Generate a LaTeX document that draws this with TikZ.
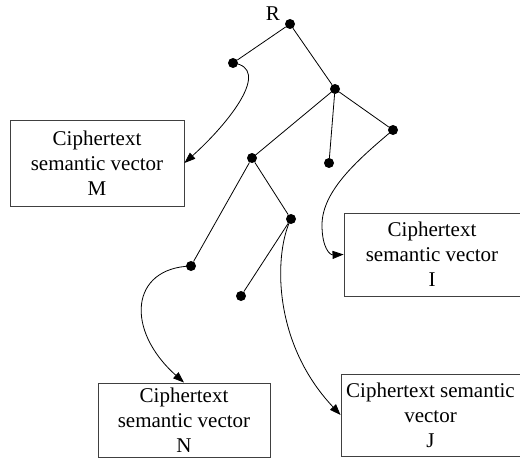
\documentclass[tikz,border=0pt]{standalone}
\usepackage{fontspec}
\setmainfont{Liberation Serif}
\usetikzlibrary{arrows.meta}
\begin{document}
\begin{tikzpicture}[x=1pt,y=-1pt,
  dot/.style={circle,fill=black,inner sep=0pt,minimum size=10pt},
  box/.style={draw=black!75,line width=0.9pt,align=center,inner sep=0pt,
    font=\fontsize{21}{25}\selectfont},
  edge/.style={line width=0.8pt},
  arr/.style={line width=0.8pt,-{Triangle[length=11pt,width=8pt]}}]
\useasboundingbox (0,0) rectangle (520,460);
% tree nodes
\node[dot] (R) at (290,24) {};
\node[font=\fontsize{21}{25}\selectfont] (Rl) at (273,14) {R};
\node[dot] (A) at (233,63) {};
\node[dot] (B) at (335,89) {};
\node[dot] (C) at (393,130) {};
\node[dot] (D) at (329,163) {};
\node[dot] (E) at (252,158) {};
\node[dot] (F) at (291,219) {};
\node[dot] (G) at (191,266) {};
\node[dot] (H) at (241,296) {};
% boxes
\node[box,minimum width=174pt,minimum height=86pt] (M) at (97,163) {Ciphertext\\semantic vector\\M};
\node[box,minimum width=176pt,minimum height=83pt] (I) at (432,254.5) {Ciphertext\\semantic vector\\I};
\node[box,minimum width=172pt,minimum height=74pt] (N) at (184,420) {Ciphertext\\semantic vector\\N};
\node[box,minimum width=179pt,minimum height=82pt] (J) at (430.5,415) {Ciphertext semantic\\vector\\J};
% edges
\draw[edge] (R) -- (A);
\draw[edge] (R) -- (B);
\draw[edge] (B) -- (E);
\draw[edge] (B) -- (D);
\draw[edge] (B) -- (C);
\draw[edge] (E) -- (G);
\draw[edge] (E) -- (F);
\draw[edge] (F) -- (H);
% arrows
\draw[arr] (A.center) .. controls (272,68) and (230,122) .. (M.east);
\draw[edge] (C.center) .. controls (360,158) and (322,190) .. (322,225) coordinate (c1);
\draw[arr] (c1) .. controls (322,248) and (330,255) .. (I.west);
\draw[arr] (G.center) .. controls (130,268) and (125,330) .. (N.north);
\draw[arr] (F.center) .. controls (275,250) and (270,340) .. (J.west);
\end{tikzpicture}
\end{document}
